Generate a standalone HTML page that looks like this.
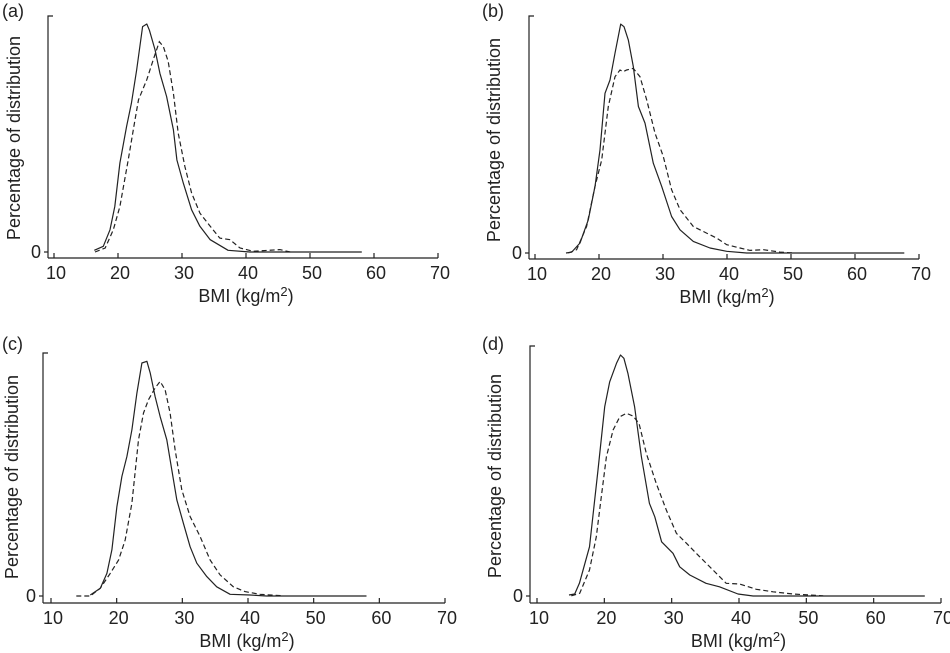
<!DOCTYPE html>
<html><head><meta charset="utf-8"><style>
html,body{margin:0;padding:0;background:#fff;}
svg{display:block;font-family:"Liberation Sans",Arial,sans-serif;}
</style></head><body>
<svg id="fig" width="950" height="653" viewBox="0 0 950 653"></svg>
<script>
// Panel (a)
const aSolidX=[16.3,17.7,18.75,19.5,20.3,21.35,22.1,22.9,23.85,24.5,24.9,25.8,26.55,27.6,28.65,29.2,30.2,31.5,32.8,34.4,37.2,40.6,58.1];
const aSolidY=[.007,.024,.094,.193,.377,.532,.63,.77,.955,.966,.94,.856,.757,.659,.518,.39,.292,.179,.109,.052,.007,0,0];
const aDashX=[16.4,18.0,19.27,20.3,21.6,22.65,23.2,24.5,25.5,26.45,27.1,27.85,28.65,29.4,30.45,31.5,32.8,34.4,35.9,37.5,39.06,41.15,45.3,46.9];
const aDashY=[0,.017,.094,.193,.39,.56,.645,.73,.814,.891,.87,.807,.673,.504,.362,.25,.165,.109,.059,.052,.017,.003,.01,0];
// Panel (b)
const bSolidX=[14.84,15.73,17.03,18.33,19.38,20.16,20.94,21.72,22.5,23.39,23.9,24.58,25.36,26.15,27.19,28.49,29.8,31.35,32.66,34.74,37.34,39.95,43.07,67.7];
const bSolidY=[0,.004,.042,.14,.281,.435,.674,.73,.843,.966,.955,.899,.787,.618,.548,.379,.281,.154,.098,.049,.021,.007,0,0];
const bDashX=[15.2,16.5,18.07,19.38,20.42,21.46,22.5,23.28,23.8,24.32,25.36,26.4,27.45,28.75,30.05,31.35,32.66,34.74,36.82,38.39,39.95,42.03,43.6,45.68,48.28,50.36];
const bDashY=[0,.014,.112,.281,.393,.618,.744,.772,.765,.772,.779,.744,.646,.506,.407,.267,.183,.112,.084,.063,.035,.021,.011,.014,.004,0];
// Panel (c)
const cSolidX=[15.98,17.5,18.51,19.28,20.04,20.8,21.56,22.32,23.08,23.84,24.6,25.1,25.86,26.62,27.64,28.4,29.16,30.17,31.19,32.2,33.72,35.24,37.27,40.3,42.84,58.05];
const cSolidY=[.004,.032,.093,.19,.368,.492,.574,.684,.835,.959,.966,.918,.821,.739,.643,.519,.396,.299,.203,.135,.08,.038,.007,.004,0,0];
const cDashX=[13.85,15.98,17.5,19.02,20.29,21.3,22.32,23.33,24.09,24.85,25.86,26.62,27.38,28.14,28.9,29.92,31.19,32.71,34.23,35.75,37.78,39.55,41.83,45.38];
const cDashY=[0,0,.032,.093,.148,.231,.382,.643,.753,.808,.856,.883,.849,.753,.602,.437,.327,.245,.148,.087,.038,.018,.007,.001];
// Panel (d)
const dSolidX=[14.75,15.6,16.3,17.8,19.06,20.05,20.8,21.8,22.4,22.9,23.5,24.5,25.5,26.7,27.5,28.5,30.2,31.2,32.7,35.1,37.1,39.85,42.1,67.6];
const dSolidY=[.004,.008,.051,.197,.504,.757,.857,.931,.964,.951,.891,.757,.557,.371,.317,.217,.171,.117,.084,.051,.037,.008,0,0];
const dDashX=[15.1,16.34,17.8,18.8,19.55,20.3,21.3,22.3,23.27,24.26,25.15,26.24,27.7,29.2,30.7,32.2,34.16,36.14,38.1,40.1,42.57,45.05,48.0,52.5];
const dDashY=[.001,.011,.104,.237,.397,.557,.664,.717,.731,.72,.691,.571,.451,.344,.251,.211,.157,.104,.051,.048,.027,.017,.008,.001];

const xTicks=[10,20,30,40,50,60,70];
const panelLetters=["(a)","(b)","(c)","(d)"];

const NS="http://www.w3.org/2000/svg";
const svg=document.getElementById('fig');
function mk(tag,attrs,parent){const e=document.createElementNS(NS,tag);for(const k in attrs)e.setAttribute(k,attrs[k]);(parent||svg).appendChild(e);return e;}

const panels=[
 {id:'a',ax:48,top:16,zero:252,axisY:258,x10:54,x70:438,lx:2,ly:17,ylx:20,yly:138,sx:aSolidX,sy:aSolidY,dx:aDashX,dy:aDashY},
 {id:'b',ax:529,top:16,zero:253,axisY:259,x10:535,x70:919,lx:482,ly:17,ylx:500,yly:140,sx:bSolidX,sy:bSolidY,dx:bDashX,dy:bDashY},
 {id:'c',ax:43,top:353,zero:596,axisY:603,x10:51,x70:445,lx:2,ly:350,ylx:18,yly:477,sx:cSolidX,sy:cSolidY,dx:cDashX,dy:cDashY},
 {id:'d',ax:530,top:346,zero:596,axisY:603,x10:537,x70:941,lx:482,ly:350,ylx:501,yly:476,sx:dSolidX,sy:dSolidY,dx:dDashX,dy:dDashY}
];

panels.forEach((p,i)=>{
  const g=mk('g',{});
  
  
  const xs=v=>p.x10+(v-10)*(p.x70-p.x10)/60;
  const ys=v=>p.zero-v*(p.zero-p.top);
  const lab=mk('text',{x:p.lx,y:p.ly,'font-size':18,fill:'#222'},g);
  lab.textContent=panelLetters[i];
  
  
  const yax=mk('path',{d:`M${p.ax+5},${p.top}H${p.ax}V${p.axisY}`,stroke:'#222','stroke-width':1.2,fill:'none'},g);
  
  
  const xax=mk('path',{d:`M${p.ax},${p.axisY}H${p.x70}`,stroke:'#222','stroke-width':1.2,fill:'none'},g);
  
  
  const zt=mk('path',{d:`M${p.ax-4},${p.zero}H${p.ax}`,stroke:'#222','stroke-width':1.2},g);
  
  
  const z=mk('text',{x:p.ax-7,y:p.zero+6,'font-size':18,'text-anchor':'end',fill:'#222'},g);
  z.textContent='0';
  
  
  xTicks.forEach(t=>{
    const tk=mk('path',{d:`M${xs(t)},${p.axisY}V${p.axisY-5}`,stroke:'#222','stroke-width':1.2},g);
    
    
    const tl=mk('text',{x:xs(t)+2,y:p.axisY+21,'font-size':18,'text-anchor':'middle',fill:'#222'},g);
    tl.textContent=t;
    
    
  });
  const xt=mk('text',{x:(p.ax+p.x70)/2+3,y:p.axisY+44,'font-size':18,'text-anchor':'middle',fill:'#222'},g);
  xt.innerHTML='BMI (kg/m<tspan font-size="13" dy="-6">2</tspan><tspan dy="6">)</tspan>';
  
  
  const yt=mk('text',{x:0,y:0,'font-size':18,'text-anchor':'middle',fill:'#222',transform:`translate(${p.ylx},${p.yly}) rotate(-90)`},g);
  yt.textContent='Percentage of distribution';
  
  
  const line=(X,Y)=>X.map((v,k)=>(k?'L':'M')+xs(v).toFixed(1)+','+ys(Y[k]).toFixed(1)).join('');
  const s=mk('path',{d:line(p.sx,p.sy),stroke:'#222','stroke-width':1.2,fill:'none','stroke-linejoin':'round'},g);
  
  
  const d=mk('path',{d:line(p.dx,p.dy),stroke:'#222','stroke-width':1.2,fill:'none','stroke-dasharray':'5,3'},g);
  
  
});
</script>
</body></html>
